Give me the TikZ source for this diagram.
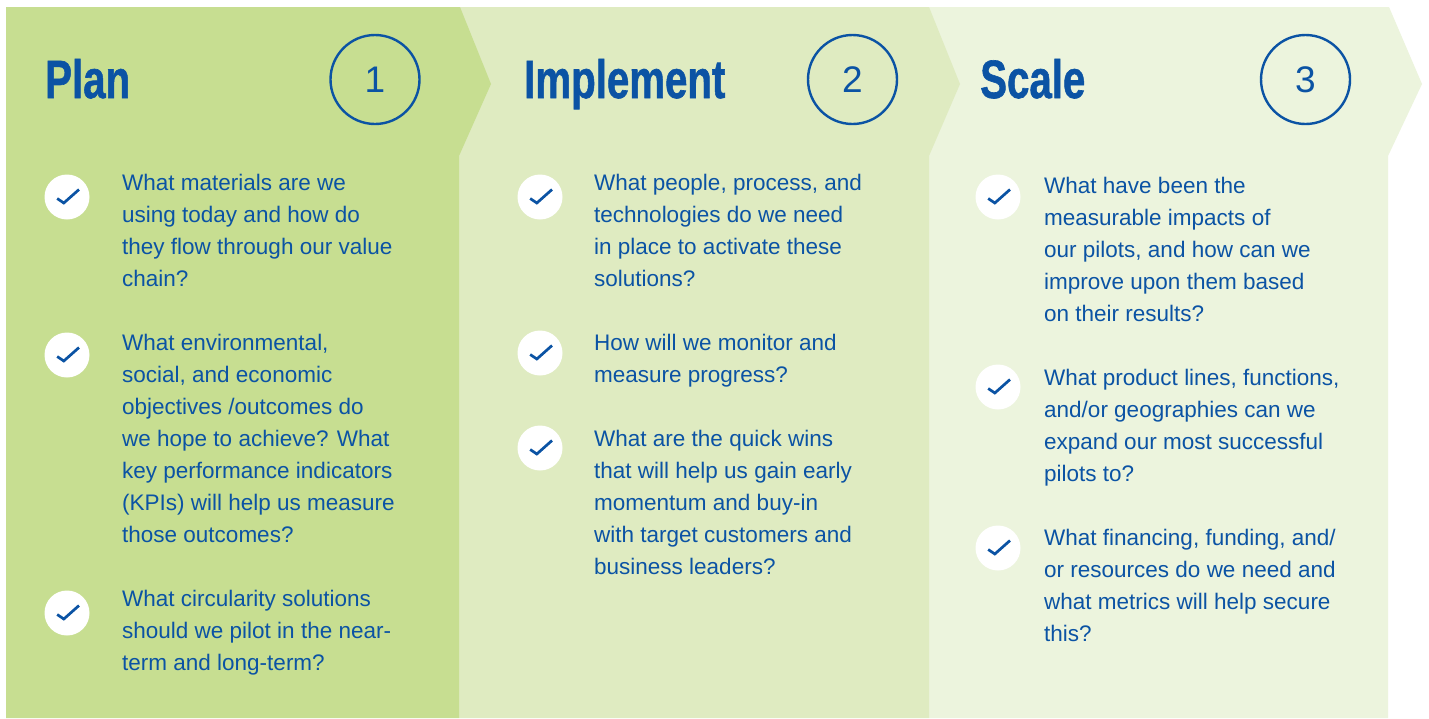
\documentclass[tikz,border=0pt]{standalone}
\usepackage{fontspec}
\setmainfont{Liberation Sans}
\newfontfamily\ttlfont[BoldFeatures={FakeBold=1.2}]{Liberation Sans}
\definecolor{pA}{HTML}{C7DE91}
\definecolor{pB}{HTML}{DFEBC1}
\definecolor{pC}{HTML}{ECF4DD}
\definecolor{ink}{HTML}{0B53A4}
\newcommand{\ttl}[1]{\scalebox{0.745}[1]{\fontsize{54}{54}\selectfont\ttlfont\bfseries #1}}
\tikzset{
  panel/.style={fill=#1,draw=none},
  title/.style={anchor=base west,inner sep=0pt,text=ink},
  numring/.style={circle,draw=ink,line width=2.4pt,minimum size=89pt,inner sep=0pt,text=ink,font=\fontsize{37}{37}\selectfont},
  tick/.style={circle,fill=white,minimum size=45pt,inner sep=0pt},
  item/.style={anchor=north west,inner sep=0pt,align=left,text=ink,font=\fontsize{22.5}{32}\selectfont},
}
\newcommand{\chk}[1]{\draw[ink,line width=2.7pt] ([shift={(-9.8,1.5)}]#1.center) -- ([shift={(-3.2,6)}]#1.center) -- ([shift={(12,-7.5)}]#1.center);}
\begin{document}
\begin{tikzpicture}[x=1pt,y=-1pt]
\useasboundingbox (0,0) rectangle (1429,718);
\fill[white] (0,0) rectangle (1429,718);
\fill[panel=pC] (929,7) -- (1389,7) -- (1422,84) -- (1388,156) -- (1388,718) -- (929,718) -- cycle;
\fill[panel=pB] (459,7) -- (929,7) -- (960,84) -- (929,156) -- (929,718) -- (459,718) -- cycle;
\fill[panel=pA] (6,7) -- (460,7) -- (491,84) -- (459,156) -- (459,718) -- (6,718) -- cycle;

\node[title] (t1) at (45,98) {\ttl{Plan}};
\node[title] (t2) at (524,98) {\ttl{Implement}};
\node[title] (t3) at (980,98) {\ttl{Scale}};
\node[numring] (n1) at (375,79.5) {1};
\node[numring] (n2) at (852.5,79.5) {2};
\node[numring] (n3) at (1305.5,79.5) {3};

\node[tick] (c11) at (67,197) {}; \chk{c11}
\node[tick] (c12) at (67,355) {}; \chk{c12}
\node[tick] (c13) at (67,613) {}; \chk{c13}
\node[tick] (c21) at (540,197) {}; \chk{c21}
\node[tick] (c22) at (540,353) {}; \chk{c22}
\node[tick] (c23) at (540,448) {}; \chk{c23}
\node[tick] (c31) at (998,197) {}; \chk{c31}
\node[tick] (c32) at (998,387) {}; \chk{c32}
\node[tick] (c33) at (998,548) {}; \chk{c33}

\node[item] (i11) at (122,173.5) {What materials are we\\using today and how do\\they flow through our value\\chain?};
\node[item] (i12) at (122,333.5) {What environmental,\\social, and economic\\objectives /outcomes do\\we hope to achieve? What\\key performance indicators\\(KPIs) will help us measure\\those outcomes?};
\node[item] (i13) at (122,589.5) {What circularity solutions\\should we pilot in the near-\\term and long-term?};
\node[item] (i21) at (594,173.5) {What people, process, and\\technologies do we need\\in place to activate these\\solutions?};
\node[item] (i22) at (594,333.5) {How will we monitor and\\measure progress?};
\node[item] (i23) at (594,429.5) {What are the quick wins\\that will help us gain early\\momentum and buy-in\\with target customers and\\business leaders?};
\node[item] (i31) at (1044,176.5) {What have been the\\measurable impacts of\\our pilots, and how can we\\improve upon them based\\on their results?};
\node[item] (i32) at (1044,368.5) {What product lines, functions,\\and/or geographies can we\\expand our most successful\\pilots to?};
\node[item] (i33) at (1044,528.5) {What financing, funding, and/\\or resources do we need and\\what metrics will help secure\\this?};
\end{tikzpicture}
\end{document}
